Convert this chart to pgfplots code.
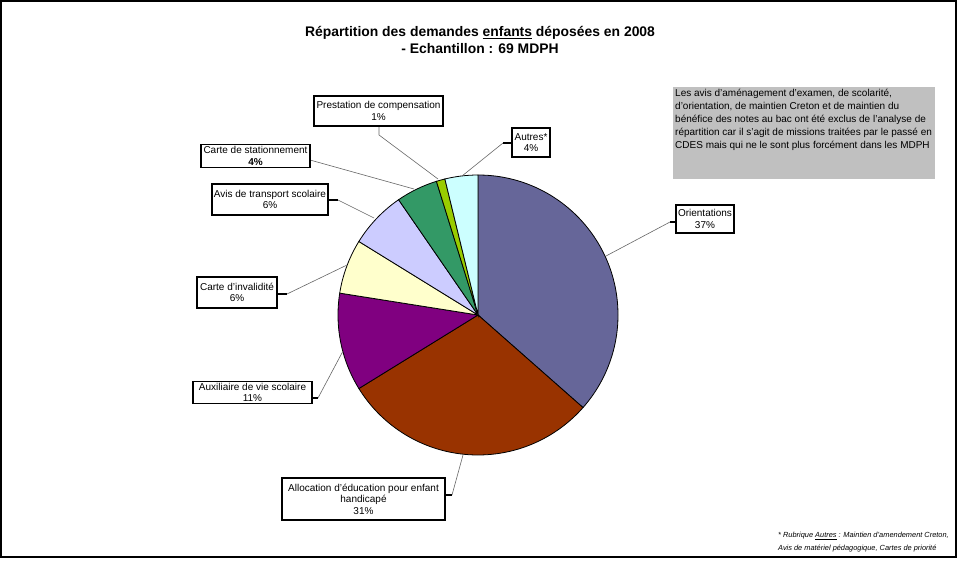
\documentclass[border=0pt]{standalone}
\usepackage{pgfplots}
\pgfplotsset{compat=1.18}
\usepackage{fontspec}
\setmainfont{Liberation Sans}

\definecolor{orient}{HTML}{666699}
\definecolor{aeeh}{HTML}{993300}
\definecolor{avs}{HTML}{800080}
\definecolor{inval}{HTML}{FFFFCC}
\definecolor{transp}{HTML}{CCCCFF}
\definecolor{station}{HTML}{339966}
\definecolor{prest}{HTML}{99CC00}
\definecolor{autres}{HTML}{CCFFFF}
\definecolor{note}{HTML}{C0C0C0}

\begin{document}
\begin{tikzpicture}[
    lbl/.style={draw=black,line width=1.1pt,fill=white,inner sep=1pt,align=center,
      font=\fontsize{10}{11.5}\selectfont},
    lead/.style={gray!80!black,line width=0.6pt}]
\begin{axis}[width=962pt,height=563pt,scale only axis,hide axis,
    xmin=0,xmax=962,ymin=0,ymax=563,y dir=reverse,clip=false]
\path (axis cs:0,0) (axis cs:962,563);
% frame
\draw[line width=2pt] (axis cs:1,1) rectangle (axis cs:956,557);

% title
\node[font=\fontsize{13.9}{16}\selectfont\bfseries] at (axis cs:480,33)
  {Répartition des demandes \underline{enfants} déposées en 2008};
\node[font=\fontsize{13.9}{16}\selectfont\bfseries] at (axis cs:480,49)
  {- Echantillon : 69 MDPH};

% slices: share in percent, clockwise from the top
\xdef\cum{90}
\foreach \v/\c in {36.5/orient,29.7/aeeh,11.3/avs,6.3/inval,6.6/transp,4.8/station,1.0/prest,3.8/autres}{
  \pgfmathsetmacro\a{\cum}
  \pgfmathsetmacro\b{\cum-3.6*\v}
  \pgfmathsetmacro\px{478+140*cos(\a)}
  \pgfmathsetmacro\py{315-140*sin(\a)}
  \edef\tmp{\noexpand\filldraw[fill=\c,draw=black,line width=0.8pt]
    (axis cs:478,315) -- (axis cs:\px,\py)
    arc[start angle=\a,end angle=\b,radius=140pt] -- cycle;}
  \tmp
  \xdef\cum{\b}
}

% leader lines
\draw[lead] (axis cs:379,126) -- (axis cs:379,135) -- (axis cs:438,179);
\draw[lead] (axis cs:310,160) -- (axis cs:414,189);
\draw[lead] (axis cs:338,200) -- (axis cs:374,218);
\draw[black,line width=1.1pt] (axis cs:328,200) -- (axis cs:338,200);
\draw[lead] (axis cs:287,294) -- (axis cs:347,265);
\draw[black,line width=1.1pt] (axis cs:277,294) -- (axis cs:287,294);
\draw[lead] (axis cs:318,398) -- (axis cs:343,351);
\draw[black,line width=1.1pt] (axis cs:312,398) -- (axis cs:318,398);
\draw[lead] (axis cs:452,495) -- (axis cs:463,455);
\draw[black,line width=1.1pt] (axis cs:445,495) -- (axis cs:452,495);
\draw[lead] (axis cs:670,222) -- (axis cs:606,256);
\draw[black,line width=1.1pt] (axis cs:676,222) -- (axis cs:670,222);
\draw[lead] (axis cs:503,143) -- (axis cs:462,176);
\draw[black,line width=1.1pt] (axis cs:512,143) -- (axis cs:503,143);

% labels
\node[lbl,minimum width=129pt,minimum height=30pt] at (axis cs:378.5,111)
  {Prestation de compensation\\1\%};
\node[lbl,minimum width=109pt,minimum height=23pt] at (axis cs:255.5,156)
  {Carte de stationnement\\\textbf{4\%}};
\node[lbl,minimum width=116pt,minimum height=31pt] at (axis cs:270,199.5)
  {Avis de transport scolaire\\6\%};
\node[lbl,minimum width=80pt,minimum height=31pt] at (axis cs:237,292.5)
  {Carte d'invalidité\\6\%};
\node[lbl,minimum width=119pt,minimum height=22pt] at (axis cs:252.5,392.5)
  {Auxiliaire de vie scolaire\\11\%};
\node[lbl,minimum width=163pt,minimum height=42pt] at (axis cs:363.5,499)
  {Allocation d'éducation pour enfant\\handicapé\\31\%};
\node[lbl,minimum width=58pt,minimum height=28pt] at (axis cs:705,219)
  {Orientations\\37\%};
\node[lbl,minimum width=38pt,minimum height=29pt] at (axis cs:531,142.5)
  {Autres*\\4\%};

% note box
\fill[note] (axis cs:673,87) rectangle (axis cs:935,179);
\node[anchor=north west,align=left,inner sep=0pt,font=\fontsize{10}{13}\selectfont]
  at (axis cs:675,89)
  {Les avis d'aménagement d'examen, de scolarité,\\
   d'orientation, de maintien Creton et de maintien du\\
   bénéfice des notes au bac ont été exclus de l'analyse de\\
   répartition car il s'agit de missions traitées par le passé en\\
   CDES mais qui ne le sont plus forcément dans les MDPH};

% footnote
\node[anchor=north west,align=left,inner sep=0pt,font=\fontsize{7.4}{13}\selectfont\itshape]
  at (axis cs:778,532)
  {* Rubrique \underline{Autres} : Maintien d'amendement Creton,\\
   Avis de matériel pédagogique, Cartes de priorité};
\end{axis}
\end{tikzpicture}
\end{document}
